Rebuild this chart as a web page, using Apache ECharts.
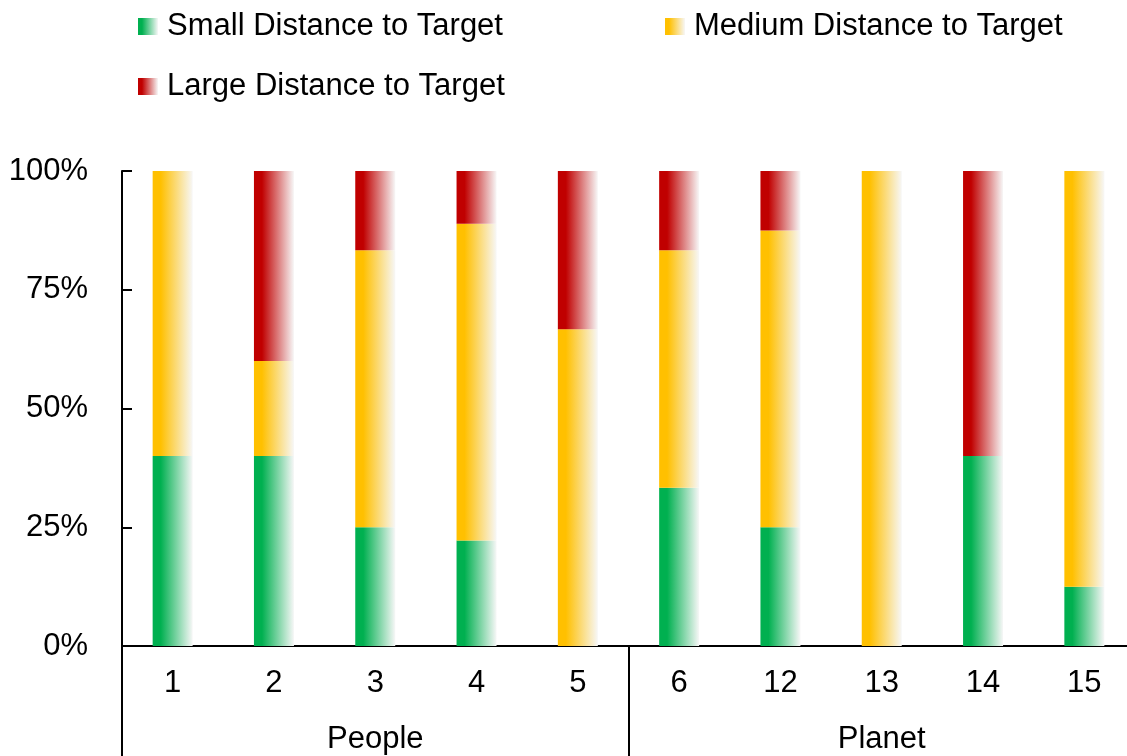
<!DOCTYPE html>
<html>
<head>
<meta charset="utf-8">
<script src="https://cdn.jsdelivr.net/npm/echarts@6/dist/echarts.min.js"></script>
<style>
html, body { margin: 0; padding: 0; background: #ffffff; }
#chart { width: 1127px; height: 756px; }
</style>
</head>
<body>
<div id="chart"></div>
<script>
// categories and groups
var categories = ["1", "2", "3", "4", "5", "6", "12", "13", "14", "15"];
var groups = ["People", "Planet"];

// percentages
var smallDist = [40, 40, 25, 22.2, 0, 33.3, 25, 0, 40, 12.5];
var mediumDist = [60, 20, 58.3, 66.7, 66.7, 50, 62.5, 100, 0, 87.5];
var largeDist = [0, 40, 16.7, 11.1, 33.3, 16.7, 12.5, 0, 60, 0];

var yTicks = [0, 25, 50, 75, 100];

function fade(c) {
  return new echarts.graphic.LinearGradient(0, 0, 1, 0, [
    { offset: 0, color: c },
    { offset: 0.2, color: c },
    { offset: 1, color: "#f7f7f7" }
  ]);
}

var chart = echarts.init(document.getElementById("chart"));
var font = "'Liberation Sans', Arial, sans-serif";
var fs = 31;

function legendAt(name, left, top) {
  return {
    data: [name],
    left: left,
    top: top,
    padding: 0,
    itemWidth: 20,
    itemHeight: 17,
    itemGap: 9,
    icon: "rect",
    textStyle: { fontSize: fs, fontFamily: font, color: "#000000", padding: [0, 0, 0, 4] }
  };
}

chart.setOption({
  backgroundColor: "#ffffff",
  animation: false,
  legend: [
    legendAt("Small Distance to Target", 138, 11),
    legendAt("Medium Distance to Target", 665, 11),
    legendAt("Large Distance to Target", 138, 71)
  ],
  grid: {
    left: 122,
    top: 171,
    width: 1013,
    height: 475,
    outerBoundsMode: "none"
  },
  xAxis: [
    {
      type: "category",
      data: categories,
      position: "bottom",
      axisLine: { lineStyle: { color: "#000000", width: 2 } },
      axisTick: { show: false },
      axisLabel: { fontSize: fs, fontFamily: font, color: "#000000", margin: 22 }
    },
    {
      type: "category",
      data: groups,
      position: "bottom",
      axisLine: { show: false },
      axisTick: { show: true, interval: 0, length: 112, lineStyle: { color: "#000000", width: 2 } },
      axisLabel: { fontSize: fs, fontFamily: font, color: "#000000", margin: 78 }
    }
  ],
  yAxis: {
    type: "value",
    min: yTicks[0],
    max: yTicks[yTicks.length - 1],
    interval: 25,
    splitLine: { show: false },
    axisLine: { show: true, lineStyle: { color: "#000000", width: 2 } },
    axisTick: { show: true, inside: true, length: 10, lineStyle: { color: "#000000", width: 2 } },
    axisLabel: {
      fontSize: fs,
      fontFamily: font,
      color: "#000000",
      margin: 34,
      formatter: function (v) { return v + "%"; }
    }
  },
  series: [
    {
      name: "Small Distance to Target",
      type: "bar",
      stack: "total",
      barWidth: 40,
      data: smallDist,
      itemStyle: { color: fade("#00b050") }
    },
    {
      name: "Medium Distance to Target",
      type: "bar",
      stack: "total",
      barWidth: 40,
      data: mediumDist,
      itemStyle: { color: fade("#ffc000") }
    },
    {
      name: "Large Distance to Target",
      type: "bar",
      stack: "total",
      barWidth: 40,
      data: largeDist,
      itemStyle: { color: fade("#c00000") }
    }
  ]
});
</script>
</body>
</html>
